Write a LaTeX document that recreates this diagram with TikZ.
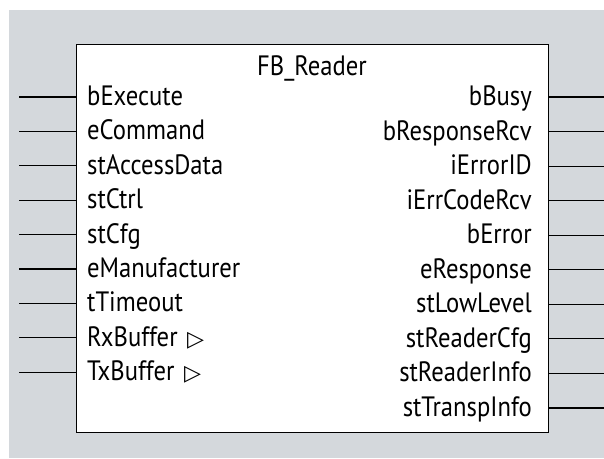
\documentclass[tikz,border=0pt]{standalone}
\usepackage{fontspec}
\setmainfont{PT Sans}[FakeStretch=0.88]
\newfontfamily\symfont{DejaVu Sans}
\definecolor{bggray}{RGB}{212,216,220}
\tikzset{
  lbl/.style={inner sep=0pt, font=\fontsize{28}{28}\selectfont},
  pin/.style={line width=1.2pt},
  fbbox/.style={draw, line width=1.2pt, fill=white, inner sep=0pt, minimum width=472pt, minimum height=388pt}
}
\newcommand{\tri}{\hspace{3pt}{\symfont\fontsize{22}{22}\selectfont ▷}}
\begin{document}
\begin{tikzpicture}[x=1pt,y=-1pt]
\useasboundingbox (0,0) rectangle (604,458);
\fill[white] (0,0) rectangle (604,458);
\fill[bggray] (9,10) rectangle (604,458);
\node[fbbox, anchor=north west] (fb) at (76,44) {};
\node[lbl, anchor=base] (title) at (312,75) {FB\_Reader};
% inputs
\foreach \t [count=\i from 0] in {bExecute,eCommand,stAccessData,stCtrl,stCfg,eManufacturer,tTimeout,RxBuffer\ \tri,TxBuffer\ \tri}{
  \coordinate (in\i) at (19,97+34.4*\i);
  \draw[pin] (in\i) -- (in\i -| fb.west);
  \node[lbl, anchor=base west] (inl\i) at (87,105.5+34.4*\i) {\t};
}
% outputs
\foreach \t [count=\i from 0] in {bBusy,bResponseRcv,iErrorID,iErrCodeRcv,bError,eResponse,stLowLevel,stReaderCfg,stReaderInfo,stTranspInfo}{
  \coordinate (out\i) at (604,97+34.55*\i);
  \draw[pin] (out\i -| fb.east) -- (out\i);
  \node[lbl, anchor=base east] (outl\i) at (532,105.5+34.55*\i) {\t};
}
\end{tikzpicture}
\end{document}
